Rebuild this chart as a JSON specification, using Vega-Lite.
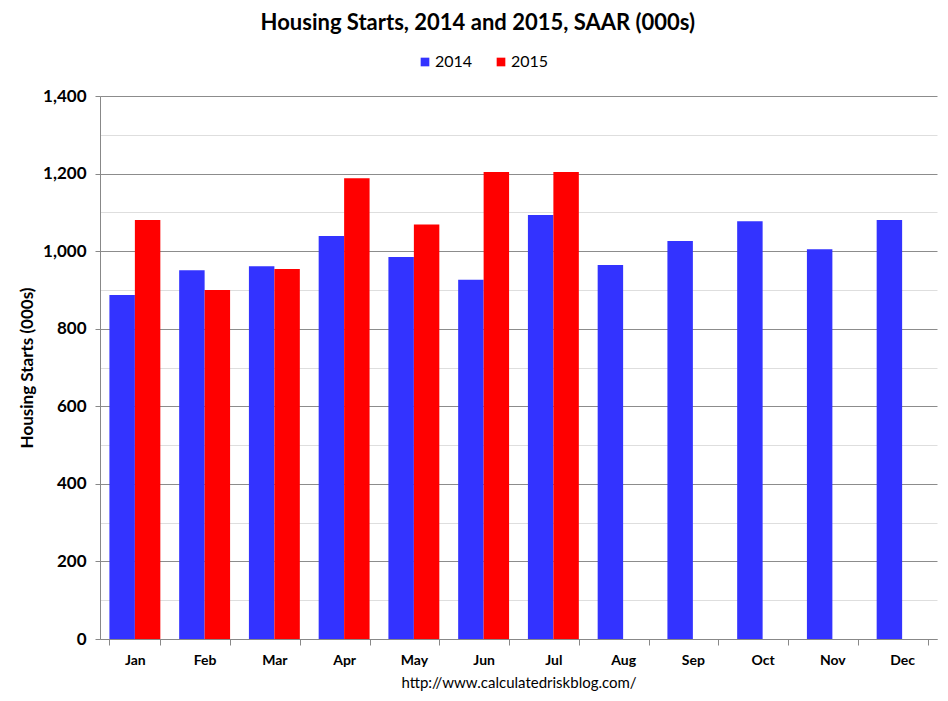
{
  "$schema": "https://vega.github.io/schema/vega-lite/v6.json",
  "width": 837,
  "height": 543,
  "autosize": "none",
  "padding": {"left": 100, "top": 96, "right": 11, "bottom": 62},
  "background": "white",
  "title": {
    "text": "Housing Starts,  2014 and 2015, SAAR (000s)",
    "font": "Lato",
    "fontSize": 22,
    "fontWeight": "bold",
    "color": "black",
    "anchor": "middle",
    "frame": "bounds",
    "offset": 19
  },
  "data": {
    "values": [
      {"month": "Jan", "year": "2014", "starts": 887},
      {"month": "Jan", "year": "2015", "starts": 1080},
      {"month": "Feb", "year": "2014", "starts": 951},
      {"month": "Feb", "year": "2015", "starts": 900},
      {"month": "Mar", "year": "2014", "starts": 961},
      {"month": "Mar", "year": "2015", "starts": 954},
      {"month": "Apr", "year": "2014", "starts": 1039},
      {"month": "Apr", "year": "2015", "starts": 1188},
      {"month": "May", "year": "2014", "starts": 985},
      {"month": "May", "year": "2015", "starts": 1069},
      {"month": "Jun", "year": "2014", "starts": 926},
      {"month": "Jun", "year": "2015", "starts": 1204},
      {"month": "Jul", "year": "2014", "starts": 1093},
      {"month": "Jul", "year": "2015", "starts": 1204},
      {"month": "Aug", "year": "2014", "starts": 964},
      {"month": "Sep", "year": "2014", "starts": 1026},
      {"month": "Oct", "year": "2014", "starts": 1077},
      {"month": "Nov", "year": "2014", "starts": 1005},
      {"month": "Dec", "year": "2014", "starts": 1080}
    ]
  },
  "mark": {"type": "bar"},
  "encoding": {
    "x": {
      "field": "month",
      "type": "nominal",
      "sort": ["Jan", "Feb", "Mar", "Apr", "May", "Jun", "Jul", "Aug", "Sep", "Oct", "Nov", "Dec"],
      "scale": {"paddingInner": 0.27, "paddingOuter": 0.135},
      "axis": {
        "title": "http://www.calculatedriskblog.com/",
        "titleFont": "Lato",
        "titleFontSize": 15,
        "titleFontWeight": "normal",
        "titleColor": "black",
        "titlePadding": 8,
        "labelFont": "Lato",
        "labelFontSize": 14,
        "labelFontWeight": "bold",
        "labelColor": "black",
        "labelAngle": 0,
        "labelPadding": 8,
        "tickBand": "extent",
        "tickSize": 6,
        "tickColor": "#888888",
        "domainColor": "#888888",
        "grid": false
      }
    },
    "xOffset": {"field": "year", "type": "nominal", "sort": ["2014", "2015"]},
    "y": {
      "field": "starts",
      "type": "quantitative",
      "scale": {"domain": [0, 1400], "nice": false},
      "axis": {
        "values": [0, 100, 200, 300, 400, 500, 600, 700, 800, 900, 1000, 1100, 1200, 1300, 1400],
        "labelExpr": "datum.value % 200 === 0 ? format(datum.value, ',') : ''",
        "grid": true,
        "gridColor": {"condition": {"test": "datum.value % 200 === 0", "value": "#8c8c8c"}, "value": "#dedede"},
        "tickOpacity": {"condition": {"test": "datum.value % 200 === 0", "value": 1}, "value": 0},
        "tickColor": "#888888",
        "tickSize": 5,
        "domainColor": "#888888",
        "labelFont": "Lato",
        "labelFontSize": 17,
        "labelFontWeight": "bold",
        "labelColor": "black",
        "labelPadding": 9,
        "title": "Housing Starts (000s)",
        "titleFont": "Lato",
        "titleFontSize": 17,
        "titleFontWeight": "bold",
        "titleColor": "black",
        "titlePadding": 6
      }
    },
    "color": {
      "field": "year",
      "type": "nominal",
      "scale": {"domain": ["2014", "2015"], "range": ["#3333FF", "#FF0000"]},
      "legend": {
        "title": null,
        "orient": "none",
        "direction": "horizontal",
        "legendX": 317,
        "legendY": -42,
        "symbolType": "square",
        "symbolSize": 75,
        "symbolStrokeWidth": 0,
        "symbolOpacity": 1,
        "labelFont": "Lato",
        "labelFontSize": 16,
        "labelOffset": 2,
        "labelColor": "black",
        "columnPadding": 20
      }
    }
  },
  "config": {"view": {"stroke": null}}
}
